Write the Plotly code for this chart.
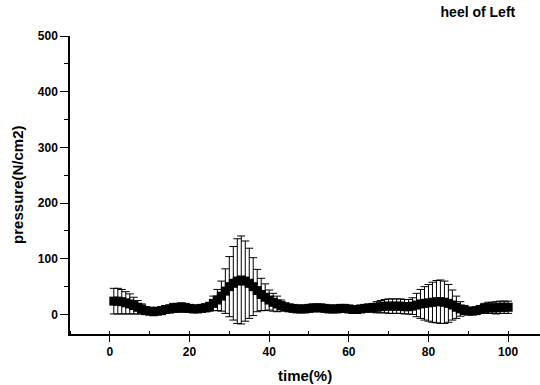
import plotly.graph_objects as go

time_pct = list(range(1, 101))
mean_pressure = [
    24, 24, 23, 21, 19, 16, 13, 10, 7, 6,
    5, 6, 7, 9, 10, 12, 12, 13, 12, 11,
    10, 10, 11, 12, 14, 20, 26, 33, 42, 50,
    56, 60, 62, 60, 56, 50, 43, 36, 31, 26,
    22, 19, 16, 14, 12, 11, 10, 10, 10, 11,
    12, 12, 12, 11, 10, 10, 10, 11, 11, 10,
    9, 9, 10, 11, 12, 12, 13, 14, 15, 15,
    15, 15, 15, 14, 14, 15, 17, 19, 20, 21,
    22, 23, 23, 22, 20, 17, 13, 10, 8, 6,
    6, 7, 9, 11, 12, 12, 12, 13, 13, 13,
]
sd_pressure = [
    23, 23, 22, 20, 18, 15, 12, 9, 6, 5,
    4, 4, 5, 6, 7, 8, 8, 8, 8, 7,
    6, 6, 6, 7, 8, 13, 19, 27, 40, 54,
    66, 76, 79, 72, 63, 52, 38, 29, 24, 18,
    16, 14, 10, 6, 4, 4, 3, 3, 3, 3,
    3, 3, 3, 3, 3, 3, 3, 3, 3, 3,
    3, 3, 4, 5, 6, 8, 10, 11, 12, 13,
    13, 13, 13, 13, 13, 15, 21, 26, 30, 33,
    36, 38, 39, 38, 34, 27, 20, 13, 8, 5,
    4, 5, 7, 9, 10, 10, 11, 11, 11, 11,
]

x_ticks = [0, 20, 40, 60, 80, 100]
y_ticks = [0, 100, 200, 300, 400, 500]

FONT = "Liberation Sans, Arial, sans-serif"

fig = go.Figure()
fig.add_trace(go.Scatter(
    x=time_pct, y=mean_pressure,
    mode="lines+markers",
    line=dict(color="black", width=3),
    marker=dict(symbol="square", size=9, color="black"),
    error_y=dict(type="data", array=sd_pressure, visible=True,
                 color="black", thickness=1, width=4),
    showlegend=False,
))

fig.update_layout(
    width=540, height=385,
    margin=dict(l=70, r=0, t=36, b=51),
    paper_bgcolor="white", plot_bgcolor="white",
    font=dict(family=FONT, size=12, color="black"),
    title=dict(text="<b>heel of Left</b>", x=0.885, y=0.969,
               xanchor="center", yanchor="middle",
               font=dict(family=FONT, size=14, color="black")),
    xaxis=dict(
        range=[-10, 108], tickvals=x_ticks, ticktext=[f"<b>{v}</b>" for v in x_ticks],
        showgrid=False, zeroline=False, showline=True, linecolor="black", linewidth=1.5,
        ticks="outside", ticklen=6, tickwidth=1, tickcolor="black",
        tickfont=dict(family=FONT, size=12),
        minor=dict(dtick=10, tick0=0, ticks="inside", ticklen=3, tickcolor="black", showgrid=False),
    ),
    yaxis=dict(
        range=[-35, 500], tickvals=y_ticks, ticktext=[f"<b>{v}</b>" for v in y_ticks],
        showgrid=False, zeroline=False, showline=True, linecolor="black", linewidth=1.5,
        ticks="outside", ticklen=8, tickwidth=1, tickcolor="black",
        tickfont=dict(family=FONT, size=12),
        minor=dict(dtick=50, tick0=0, ticks="outside", ticklen=4, tickcolor="black", showgrid=False),
    ),
    annotations=[
        dict(text="<b>pressure(N/cm2)</b>", xref="paper", yref="paper",
             x=-0.113, y=0.5, textangle=-90, showarrow=False,
             xanchor="center", yanchor="middle", font=dict(family=FONT, size=15)),
        dict(text="<b>time(%)</b>", xref="paper", yref="paper",
             x=0.5, y=0, yshift=-41, showarrow=False,
             xanchor="center", yanchor="middle", font=dict(family=FONT, size=15)),
    ],
)

fig.write_html("out.html")
